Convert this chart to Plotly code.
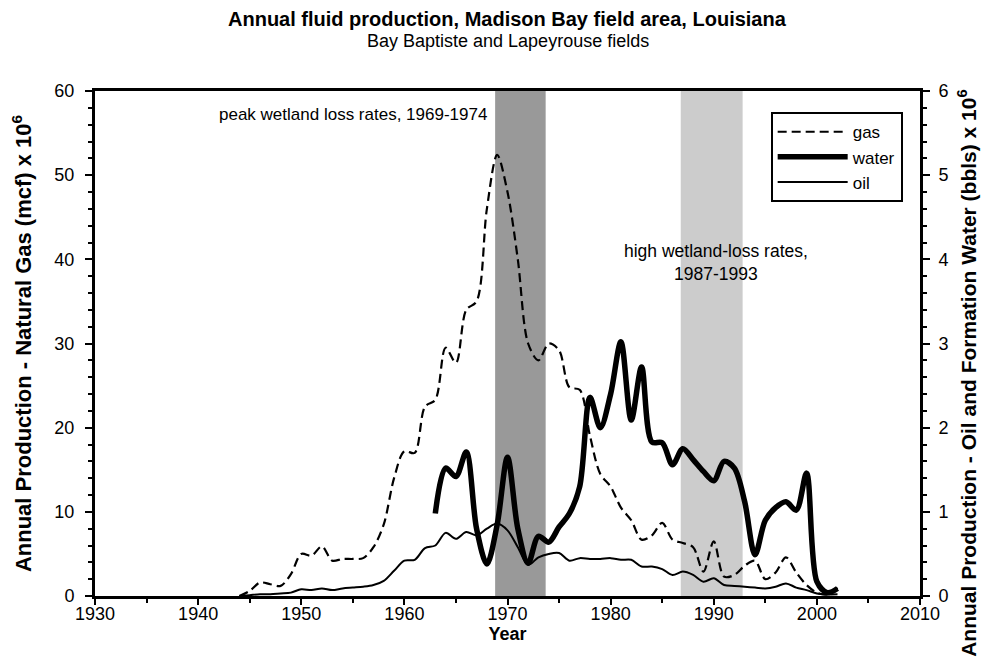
import plotly.graph_objects as go

# ---- data ----
gas_years = list(range(1944, 2003))
gas = [0, 0.6, 1.6, 1.4, 1.2, 2.6, 5.0, 4.8, 5.9, 4.2,
       4.4, 4.4, 4.5, 5.8, 8.5, 14.0, 17.2, 17.0, 22.5, 23.3,
       29.5, 27.7, 34.0, 35.0, 46.0, 52.4, 48.0, 40.0, 30.0, 28.0,
       30.0, 29.2, 24.8, 24.5, 19.0, 14.5, 13.0, 10.5, 9.0, 6.7,
       7.2, 8.7, 6.7, 6.3, 5.8, 2.9, 6.5, 2.3, 2.5, 3.6,
       4.2, 2.0, 2.8, 4.6, 2.8, 1.3, 0.4, 0.2, 1.0]

oil_years = list(range(1944, 2003))
oil = [0, 0.01, 0.02, 0.02, 0.03, 0.04, 0.08, 0.07, 0.09, 0.07,
       0.09, 0.10, 0.11, 0.13, 0.18, 0.30, 0.42, 0.43, 0.57, 0.60,
       0.75, 0.68, 0.76, 0.72, 0.80, 0.86, 0.78, 0.58, 0.37, 0.46,
       0.50, 0.51, 0.42, 0.45, 0.44, 0.44, 0.45, 0.43, 0.43, 0.35,
       0.35, 0.32, 0.25, 0.29, 0.25, 0.17, 0.21, 0.13, 0.12, 0.11,
       0.10, 0.09, 0.11, 0.15, 0.10, 0.07, 0.03, 0.02, 0.02]

water_years = list(range(1963, 2003))
water = [0.98, 1.52, 1.42, 1.71, 0.80, 0.38, 0.85, 1.65, 0.80, 0.39,
         0.71, 0.64, 0.82, 0.98, 1.30, 2.36, 2.00, 2.40, 3.02, 2.09,
         2.72, 1.83, 1.82, 1.56, 1.75, 1.62, 1.48, 1.37, 1.60, 1.52,
         1.12, 0.49, 0.90, 1.05, 1.12, 1.02, 1.46, 0.17, 0.04, 0.09]

peak_band = (1968.8, 1973.7)
high_band = (1986.8, 1992.8)

x_ticks = [1930, 1940, 1950, 1960, 1970, 1980, 1990, 2000, 2010]

FONT = "Liberation Sans, Arial, Helvetica, sans-serif"

fig = go.Figure()
fig.add_trace(go.Scatter(x=gas_years, y=gas, name="gas", mode="lines",
                         line=dict(color="black", width=2.2, dash="9px,5px",
                                   shape="spline", smoothing=0.9)))
fig.add_trace(go.Scatter(x=water_years, y=water, name="water", mode="lines", yaxis="y2",
                         line=dict(color="black", width=5.5,
                                   shape="spline", smoothing=0.9)))
fig.add_trace(go.Scatter(x=oil_years, y=oil, name="oil", mode="lines", yaxis="y2",
                         line=dict(color="black", width=2,
                                   shape="spline", smoothing=0.9)))

fig.add_shape(type="rect", xref="x", yref="paper", x0=peak_band[0], x1=peak_band[1],
              y0=0, y1=1, fillcolor="#999999", line=dict(width=0), layer="below")
fig.add_shape(type="rect", xref="x", yref="paper", x0=high_band[0], x1=high_band[1],
              y0=0, y1=1, fillcolor="#cccccc", line=dict(width=0), layer="below")

fig.add_annotation(text="peak wetland loss rates, 1969-1974", x=1968.2, y=57.2,
                   xref="x", yref="y", xanchor="right", yanchor="middle",
                   showarrow=False, font=dict(size=17, color="black", family=FONT))
fig.add_annotation(text="high wetland-loss rates,<br>1987-1993", x=1990.2, y=39.6,
                   xref="x", yref="y", xanchor="center", yanchor="middle",
                   showarrow=False, font=dict(size=17.5, color="black", family=FONT))

# titles
fig.add_annotation(text="<b>Annual fluid production, Madison Bay field area, Louisiana</b>",
                   x=0.5, y=1, xref="paper", yref="paper", xanchor="center",
                   yanchor="middle", yshift=72, showarrow=False,
                   font=dict(size=20, color="black", family=FONT))
fig.add_annotation(text="Bay Baptiste and Lapeyrouse fields",
                   x=0.5, y=1, xref="paper", yref="paper", xanchor="center",
                   yanchor="middle", yshift=50, showarrow=False,
                   font=dict(size=18, color="black", family=FONT))
# right axis title (sits lower than the axis centre in the original)
fig.add_annotation(text="<b>Annual Production - Oil and Formation Water (bbls) x 10<sup>6</sup></b>",
                   x=1.057, y=0.44, xref="paper", yref="paper", xanchor="center",
                   yanchor="middle", textangle=-90, showarrow=False,
                   font=dict(size=21, color="black", family=FONT))

fig.update_layout(
    width=987, height=659,
    margin=dict(l=87, r=75, t=83, b=71, autoexpand=False),
    paper_bgcolor="white", plot_bgcolor="white",
    font=dict(family=FONT, color="black", size=18),
    showlegend=True,
    legend=dict(x=0.979, y=0.958, xanchor="right", yanchor="top",
                bgcolor="white", bordercolor="black", borderwidth=2,
                font=dict(size=17, family=FONT, color="black"),
                itemwidth=70, tracegroupgap=0),
    xaxis=dict(range=[1930, 2010], tickvals=x_ticks, ticks="outside", ticklen=6,
               tickwidth=2, tickcolor="black", showline=True, linewidth=3,
               linecolor="black", mirror=True, showgrid=False, zeroline=False,
               minor=dict(dtick=5, ticks="outside", ticklen=4, tickwidth=2, tickcolor="black"),
               title=dict(text="<b>Year</b>", font=dict(size=18, family=FONT), standoff=0),
               tickfont=dict(size=18), ticklabelstandoff=-7, automargin=False),
    yaxis=dict(range=[0, 60], dtick=10, ticks="outside", ticklen=7, tickwidth=2,
               tickcolor="black", showline=True, linewidth=3, linecolor="black",
               showgrid=False, zeroline=False,
               minor=dict(dtick=2, ticks="outside", ticklen=4, tickwidth=2, tickcolor="black"),
               title=dict(text="<b>Annual Production - Natural Gas (mcf) x 10<sup>6</sup></b>",
                          font=dict(size=22, family=FONT), standoff=25),
               tickfont=dict(size=18), ticklabelstandoff=7, automargin=False),
    yaxis2=dict(range=[0, 6], dtick=1, overlaying="y", side="right", ticks="outside",
                ticklen=7, tickwidth=2, tickcolor="black", showline=True, linewidth=3,
                linecolor="black", showgrid=False, zeroline=False,
                minor=dict(dtick=0.2, ticks="outside", ticklen=4, tickwidth=2, tickcolor="black"),
                tickfont=dict(size=18), ticklabelstandoff=5, automargin=False),
)

fig.write_html("out.html")
